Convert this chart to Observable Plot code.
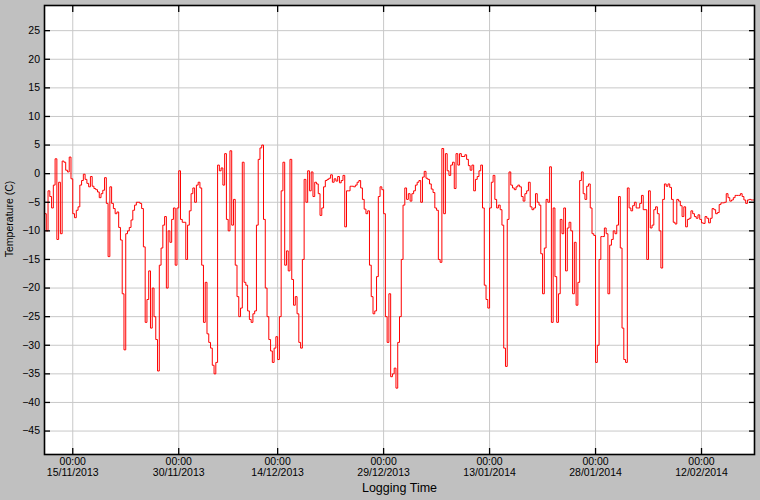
<!DOCTYPE html>
<html>
<head>
<meta charset="utf-8">
<script src="https://cdn.jsdelivr.net/npm/d3@7"></script>
<script src="https://cdn.jsdelivr.net/npm/@observablehq/plot@0.6"></script>
<style>
html, body { margin: 0; padding: 0; background: #c0c0c0; }
#chart { width: 760px; height: 500px; }
</style>
</head>
<body>
<div id="chart"></div>
<script>
// ---- Data ----
const startTime = "2013-11-11T00:00:00Z"; // first logged sample
const stepHours = 6;                        // logging interval used for the readings
const temps = [
  -7, -10, -3, -4, -6, -2, 2.6, -11.5, -1.5, -10.5,
  2.2, 2, 0.6, 0.3, 2.9, -0.9, -7, -7.7, -6.4, -5.8,
  -2, -1.2, -0.1, -1, -1.7, -2.3, -0.5, -2.2, -2.6, -2.8,
  -3.2, -4.2, -3.5, -2.9, -0.7, -5.2, -14.5, -2.3, -5.2, -6.1,
  -7, -6.7, -9.4, -11.6, -21, -30.8, -10.5, -10, -9.4, -8.1,
  -6.4, -5.5, -5, -5, -5.2, -6.1, -12.8, -26,
  -22, -17, -27, -20, -25, -29, -34.5, -16, -13, -9,
  -7.5, -20, -10, -12, -8, -6, -16, -6, 0.5, -8,
  -8.5, -8.5, -15, -9, -6.5, -3.5, -2.5, -5, -2, -1.5,
  -2.5, -16, -26, -19, -28, -29.5, -30.5, -33.5, -35, -33,
  1.5, 0.5, 1, -2, 3.5, -8, -10, 4, -9, -4.5,
  -16, -21.5, -25, -23.5, 2, -19, -19.5, -24, -25.5, -26,
  -24.5,
  -24, -9, 2.5, 4.5, 5, -8, -20, -25, -29, -31,
  -33, -30.5, -28.5, -32.5, -25, -3, 2, -16, -13.5, -17,
  2.5, -18.5, -23, -21.5, -24.5, -29.5, -30.5, -15, -1, -5,
  0.5, -3, 0.3, -4, -1.5, -1.8, -3.5, -7.3, -6, -2.3,
  -1.2, -1, -0.8, -0.2, -1.5, -0.9, -1.3, -0.5, -1.6, -1.2,
  -0.3, -9.3, -3, -3, -2.2, -2.2, -2.3, -2, -1.5,
  -1.2, -2.5, -4.5, -6.2, -7, -6.5, -16, -21.5, -24.5, -24,
  -18, -4, -2.3, -2.8, -7, -25, -29.5, -21, -35.5, -35,
  -34, -37.5, -29.5, -25, -15, -5.5, -2.5, -4.5, -3.5, -4.8,
  -3.5, -3, -2, -1.5, -1.2, -5, -0.6, 0.4, -0.8, -1,
  -1.8, -2.7, -3.3, -6, -6.4, -15, -15.5, 4.4, -7, 3.5,
  0.5, -0.3, 1.5, 2, -2.6, 3.5, 1.5, 3.5, 3, 3, 3.3,
  2.5, 1.4, 0.6, 1.5, -3, -1, -0.5, 0.5, 1.5, -6,
  -19.5, -22, -23.5, -6, -1.5, -0.3, -4.5, -6, -5.5, -6.3,
  -9, -30.5, -33.7, -8, 0.3, -2, -2.5, -2.8, -2.3, -2,
  -2.3, -4, -4.8, -3.5, -3, -1.5, -5.8, -6.3, -6, -3.5,
  -5, -5.5, -14, -21, -13, -4.5, -5, 1.2, -26, -6,
  -18, -26, -21, -8, -10.5, -6, -17, -9.5, -8.5,
  -10, -21, -12, -23, -19, -1.2, 0.3, -3.5, -4.5, -2.2,
  -1.8, -6, -10.5, -10.8, -33, -30, -15, -11, -11, -9.5,
  -10.5, -21, -12.5, -11.5, -10, -10.5, -9, -4, -13, -27,
  -32.5, -33, -2.5, -6, -6.5, -5.6, -5, -6, -6, -5.2,
  -3.8, -6.3, -6.3, -15, -3, -9.5, -9, -6.3, -5.8, -7,
  -10, -16.5,
  -4.5, -1.8, -2.2, -1.8, -2.4, -4.5, -8.5, -8.8, -4.5, -4.8,
  -5.6, -7.5, -5.8, -9.3, -8, -7.8, -6.5, -7, -7.5, -7.8,
  -7.2, -8, -8.6, -8.7, -7.5, -7.8, -8.6, -7.8, -6.1, -6.3,
  -7, -6.8, -5.4, -5.1, -5.1, -5, -3.5, -4.2, -4.8, -4.6,
  -4.2, -3.8, -3.8, -3.8, -3.5, -4, -4.6, -5.2, -4.6, -4.5,
  -4.6, -4.6, -4.4
];
const xDomain = ["2013-11-11T00:00:00Z", "2014-02-19T12:00:00Z"];
const xTickDates = ["2013-11-15", "2013-11-30", "2013-12-14", "2013-12-29", "2014-01-13", "2014-01-28", "2014-02-12"];
const xTickTime = "00:00";
const yDomain = [-49.1, 29.4];
const yTicks = [-45, -40, -35, -30, -25, -20, -15, -10, -5, 0, 5, 10, 15, 20, 25];
const xLabel = "Logging Time";
const yLabel = "Temperature (C)";

// ---- Build ----
const t0 = new Date(startTime);
const data = temps.map((v, i) => ({ time: new Date(+t0 + i * stepHours * 3600e3), temp: v }));
const xTicks = xTickDates.map(s => new Date(s + "T00:00:00Z"));
const fmtDate = d3.utcFormat("%d/%m/%Y");

const chart = Plot.plot({
  width: 760,
  height: 500,
  marginLeft: 44,
  marginRight: 6,
  marginTop: 5,
  marginBottom: 46,
  style: { background: "#c0c0c0", fontFamily: "'Liberation Sans', Arial, sans-serif", fontSize: "10.5px", color: "#000" },
  x: { type: "utc", domain: xDomain.map(s => new Date(s)) },
  y: { domain: yDomain },
  marks: [
    Plot.frame({ fill: "white", stroke: null }),
    Plot.gridX(xTicks, { stroke: "#c8c8c8", strokeOpacity: 1 }),
    Plot.gridY(yTicks, { stroke: "#c8c8c8", strokeOpacity: 1 }),
    Plot.line(data, { x: "time", y: "temp", stroke: "#ff0000", strokeWidth: 1, curve: "step-after" }),
    // inward tick marks on all four sides
    Plot.axisY(yTicks, { anchor: "left", tickSize: 6, dx: 6, tickFormat: () => "", label: null, strokeWidth: 1.3 }),
    Plot.axisY(yTicks, { anchor: "right", tickSize: 6, dx: -6, tickFormat: () => "", label: null, strokeWidth: 1.3 }),
    Plot.axisX(xTicks, { anchor: "top", tickSize: 6, dy: 6, tickFormat: () => "", label: null, strokeWidth: 1.3 }),
    Plot.axisX(xTicks, { anchor: "bottom", tickSize: 6, dy: -6, tickFormat: () => "", label: null, strokeWidth: 1.3 }),
    // tick labels
    Plot.axisY(yTicks, { anchor: "left", tickSize: 0, tickPadding: 4.5, label: null }),
    Plot.axisX(xTicks, { anchor: "bottom", tickSize: 0, tickPadding: 3.5, tickFormat: () => xTickTime, label: null }),
    Plot.axisX(xTicks, { anchor: "bottom", tickSize: 0, tickPadding: 14.5, tickFormat: fmtDate, label: null }),
    Plot.frame({ stroke: "#000", strokeWidth: 1.6 }),
    // axis titles
    Plot.text([xLabel], { frameAnchor: "bottom", textAnchor: "middle", lineAnchor: "middle", dy: 33.5, fontSize: 12.5, fill: "#000" }),
    Plot.text([yLabel], { frameAnchor: "left", textAnchor: "middle", lineAnchor: "middle", rotate: -90, dx: -34.5, dy: -11, fontSize: 10.5, fill: "#000" })
  ]
});
document.getElementById("chart").appendChild(chart);
</script>
</body>
</html>
